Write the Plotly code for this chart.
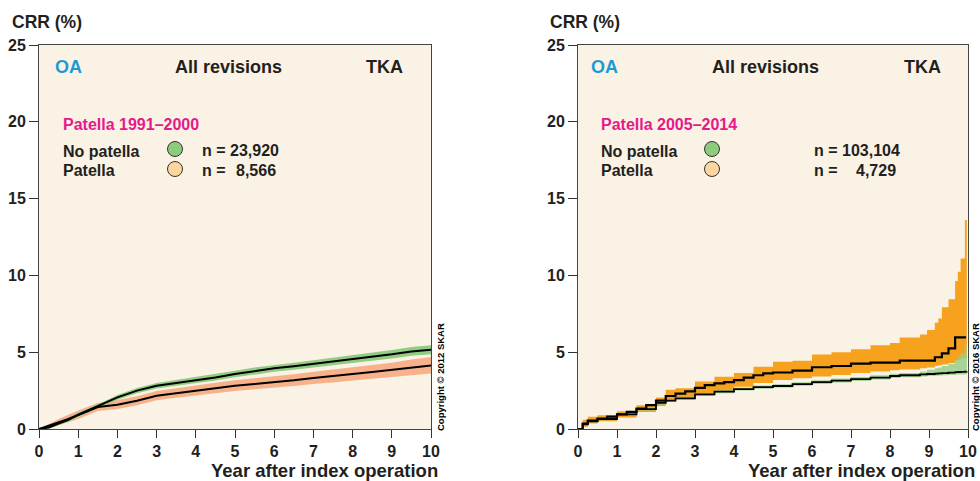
import plotly.graph_objects as go

# ---------------- data: left panel (Patella 1991-2000) ----------------
years_L = [0, 0.25, 0.5, 0.75, 1, 1.5, 2, 2.5, 3, 3.5, 4, 4.5, 5, 5.5, 6, 6.5, 7, 7.5, 8, 8.5, 9, 9.5, 10]
nopat_L = [0, 0.1, 0.35, 0.6, 0.93, 1.47, 2.06, 2.5, 2.82, 3.0, 3.17, 3.36, 3.58, 3.77, 3.95, 4.08, 4.23, 4.38, 4.53, 4.69, 4.86, 5.05, 5.16]
nopat_hi_L = [0, 0.18, 0.45, 0.72, 1.05, 1.6, 2.22, 2.67, 3.0, 3.19, 3.38, 3.58, 3.8, 4.0, 4.18, 4.32, 4.48, 4.64, 4.79, 4.96, 5.14, 5.34, 5.46]
nopat_lo_L = [0, 0.04, 0.25, 0.48, 0.8, 1.33, 1.9, 2.33, 2.64, 2.81, 2.97, 3.15, 3.37, 3.55, 3.72, 3.85, 3.99, 4.13, 4.28, 4.43, 4.59, 4.77, 4.87]
pat_L = [0, 0.2, 0.43, 0.65, 0.91, 1.43, 1.58, 1.84, 2.17, 2.34, 2.52, 2.67, 2.82, 2.93, 3.04, 3.17, 3.32, 3.43, 3.58, 3.71, 3.84, 4.01, 4.14]
pat_hi_L = [0, 0.35, 0.65, 0.92, 1.2, 1.7, 1.88, 2.14, 2.48, 2.66, 2.85, 3.01, 3.17, 3.3, 3.42, 3.57, 3.73, 3.86, 4.02, 4.17, 4.32, 4.52, 4.69]
pat_lo_L = [0, 0.07, 0.24, 0.42, 0.65, 1.17, 1.3, 1.55, 1.87, 2.04, 2.2, 2.34, 2.48, 2.58, 2.68, 2.8, 2.93, 3.02, 3.16, 3.27, 3.38, 3.52, 3.62]

# ---------------- data: right panel (Patella 2005-2014) ----------------
pat_years_R = [0, 0.12, 0.25, 0.5, 0.75, 1.0, 1.25, 1.5, 1.75, 2.0, 2.25, 2.5, 2.75, 3.0, 3.25, 3.5, 3.75, 4.0,
               4.25, 4.5, 4.75, 5.0, 5.5, 6.0, 6.5, 7.0, 7.5, 8.25, 9.15, 9.33, 9.5, 9.67, 9.95]
pat_R = [0, 0.35, 0.55, 0.68, 0.8, 0.95, 1.12, 1.32, 1.55, 1.85, 2.15, 2.3, 2.45, 2.68, 2.85, 2.97, 3.05, 3.18,
         3.35, 3.5, 3.62, 3.68, 3.8, 4.02, 4.1, 4.25, 4.32, 4.45, 4.67, 4.93, 5.25, 5.97, 5.97]

band_years_R = [0, 0.12, 0.25, 0.5, 1.0, 1.5, 2.0, 2.25, 2.5, 3.0, 3.5, 4.0, 4.5, 5.0, 5.5, 6.0, 6.5, 7.0, 7.5,
                8.0, 8.25, 8.77, 8.95, 9.15, 9.24, 9.33, 9.5, 9.67, 9.74, 9.81, 9.92, 9.97]
pat_hi_R = [0, 0.6, 0.8, 0.9, 1.15, 1.55, 2.05, 2.55, 2.65, 3.1, 3.4, 3.65, 4.05, 4.38, 4.45, 4.85, 5.0, 5.2, 5.45,
            5.6, 5.95, 6.16, 6.44, 6.92, 7.2, 7.92, 8.44, 9.63, 10.24, 11.1, 13.6, 13.6]
pat_lo_R = [0, 0.15, 0.35, 0.5, 0.75, 1.1, 1.5, 1.8, 1.95, 2.25, 2.45, 2.75, 3.0, 3.19, 3.3, 3.42, 3.52, 3.65, 3.75,
            3.82, 3.88, 3.95, 4.0, 4.1, 4.15, 4.2, 4.3, 4.45, 4.5, 4.55, 4.6, 4.6]
nopat_R = [0, 0.3, 0.5, 0.65, 0.95, 1.3, 1.7, 1.85, 2.0, 2.25, 2.43, 2.6, 2.72, 2.8, 2.92, 3.05, 3.15, 3.25, 3.35,
           3.45, 3.5, 3.55, 3.58, 3.6, 3.62, 3.64, 3.67, 3.7, 3.71, 3.72, 3.73, 3.75]
nopat_hi_R = [0, 0.38, 0.58, 0.73, 1.04, 1.4, 1.8, 1.95, 2.1, 2.35, 2.53, 2.7, 2.83, 2.92, 3.04, 3.17, 3.28, 3.38, 3.5,
              3.6, 3.65, 3.75, 3.85, 3.95, 4.0, 4.1, 4.25, 4.5, 4.7, 4.9, 5.4, 5.4]
nopat_lo_R = [0, 0.22, 0.42, 0.57, 0.86, 1.2, 1.6, 1.75, 1.9, 2.15, 2.33, 2.5, 2.62, 2.7, 2.81, 2.93, 3.03, 3.13, 3.22,
              3.32, 3.37, 3.42, 3.45, 3.47, 3.49, 3.5, 3.52, 3.54, 3.55, 3.55, 3.56, 3.56]

x_ticks = [0, 1, 2, 3, 4, 5, 6, 7, 8, 9, 10]
y_ticks = [0, 5, 10, 15, 20, 25]

# ---------------- styling ----------------
W, H = 980, 481
FONT = "Liberation Sans, Arial, sans-serif"
TXT = "#231F20"
BG = "#FAF2E4"
GREEN_L, SALMON_L = "#90CD82", "#F7B28C"
GREEN_R, ORANGE_R = "rgba(150,208,138,0.85)", "#F7A21E"


def px(x):
    return x / W


def py(y):
    return 1 - y / H


fig = go.Figure()

# left panel bands + lines
fig.add_trace(go.Scatter(x=years_L, y=pat_lo_L, mode="lines", line=dict(width=0), xaxis="x", yaxis="y",
                         showlegend=False, hoverinfo="skip"))
fig.add_trace(go.Scatter(x=years_L, y=pat_hi_L, mode="lines", line=dict(width=0), fill="tonexty",
                         fillcolor=SALMON_L, xaxis="x", yaxis="y", showlegend=False, hoverinfo="skip"))
fig.add_trace(go.Scatter(x=years_L, y=nopat_lo_L, mode="lines", line=dict(width=0), xaxis="x", yaxis="y",
                         showlegend=False, hoverinfo="skip"))
fig.add_trace(go.Scatter(x=years_L, y=nopat_hi_L, mode="lines", line=dict(width=0), fill="tonexty",
                         fillcolor=GREEN_L, xaxis="x", yaxis="y", showlegend=False, hoverinfo="skip"))
fig.add_trace(go.Scatter(x=years_L, y=pat_L, mode="lines", line=dict(color="black", width=2),
                         xaxis="x", yaxis="y", showlegend=False))
fig.add_trace(go.Scatter(x=years_L, y=nopat_L, mode="lines", line=dict(color="black", width=2),
                         xaxis="x", yaxis="y", showlegend=False))

# right panel bands + lines
fig.add_trace(go.Scatter(x=band_years_R, y=pat_lo_R, mode="lines", line=dict(width=0, shape="hv"),
                         xaxis="x2", yaxis="y2", showlegend=False, hoverinfo="skip"))
fig.add_trace(go.Scatter(x=band_years_R, y=pat_hi_R, mode="lines", line=dict(width=0, shape="hv"), fill="tonexty",
                         fillcolor=ORANGE_R, xaxis="x2", yaxis="y2", showlegend=False, hoverinfo="skip"))
fig.add_trace(go.Scatter(x=band_years_R, y=nopat_lo_R, mode="lines", line=dict(width=0, shape="hv"),
                         xaxis="x2", yaxis="y2", showlegend=False, hoverinfo="skip"))
fig.add_trace(go.Scatter(x=band_years_R, y=nopat_hi_R, mode="lines", line=dict(width=0, shape="hv"), fill="tonexty",
                         fillcolor=GREEN_R, xaxis="x2", yaxis="y2", showlegend=False, hoverinfo="skip"))
fig.add_trace(go.Scatter(x=band_years_R, y=nopat_R, mode="lines", line=dict(color="black", width=1.8, shape="hv"),
                         xaxis="x2", yaxis="y2", showlegend=False))
fig.add_trace(go.Scatter(x=pat_years_R, y=pat_R, mode="lines", line=dict(color="black", width=2.2, shape="hv"),
                         xaxis="x2", yaxis="y2", showlegend=False))

tickfont = dict(family=FONT, size=16, color=TXT, weight="bold")
xax = dict(range=[0, 10], tickvals=x_ticks, ticks="outside", ticklen=8, tickcolor="#333", showgrid=False,
           zeroline=False, showline=True, linecolor="#444", linewidth=1, mirror=True, tickfont=tickfont,
           fixedrange=True, automargin=False)
yax = dict(range=[0, 25], tickvals=y_ticks, ticks="outside", ticklen=9, tickcolor="#333", showgrid=False,
           zeroline=False, showline=True, linecolor="#444", linewidth=1, mirror=True, tickfont=tickfont,
           domain=[py(429), py(45)], fixedrange=True, automargin=False)

fig.update_layout(
    template="none",
    width=W, height=H, margin=dict(l=0, r=0, t=0, b=0, pad=0),
    paper_bgcolor="white", plot_bgcolor=BG,
    xaxis=dict(xax, domain=[px(39), px(431)], anchor="y"),
    yaxis=dict(yax, anchor="x"),
    xaxis2=dict(xax, domain=[px(578), px(968)], anchor="y2"),
    yaxis2=dict(yax, anchor="x2"),
    showlegend=False,
)

ann = []


def T(text, x, y, size=16, color=TXT, xa="left", angle=0):
    ann.append(dict(text=f"<b>{text}</b>", x=px(x), y=py(y), xref="paper", yref="paper", showarrow=False,
                    xanchor=xa, yanchor="middle", textangle=angle,
                    font=dict(family=FONT, size=size, color=color)))


BLUE, MAGENTA = "#1E9AD3", "#E6198C"

panels = [
    dict(head="Patella 1991–2000", n1="23,920", n2="8,566", circ=175, nx=200, nr=278,
         oa=53, allc=228, tka=405, crr=10, copy="Copyright © 2012 SKAR", cx=440),
    dict(head="Patella 2005–2014", n1="103,104", n2="4,729", circ=712, nx=812, nr=898,
         oa=589, allc=765, tka=943, crr=548, copy="Copyright © 2016 SKAR", cx=975),
]
legx = [61, 599]
xtitle_r = [440, 977]
for i, p in enumerate(panels):
    T("CRR (%)", p["crr"], 22, size=17.5)
    T("OA", p["oa"], 67, size=18, color=BLUE)
    T("All revisions", p["allc"], 67, size=18, xa="center")
    T("TKA", p["tka"], 67, size=18, xa="right")
    T(p["head"], legx[i], 124, size=16, color=MAGENTA)
    T("No patella", legx[i], 151, size=16)
    T("Patella", legx[i], 170, size=16)
    T("n = " + p["n1"], p["nx"], 150, size=16)
    T("n =", p["nx"], 170, size=16)
    T(p["n2"], p["nr"], 170, size=16, xa="right")
    T("Year after index operation", xtitle_r[i], 470, size=18.5, xa="right")
    ann.append(dict(text=f"<b>{p['copy']}</b>", x=px(p["cx"]), y=py(377), xref="paper", yref="paper",
                    showarrow=False, xanchor="center", yanchor="middle", textangle=-90,
                    font=dict(family="Liberation Sans Narrow, Liberation Sans, Arial", size=9.5, color="black")))

fig.update_layout(annotations=ann)

shapes = []
for p in panels:
    for yy, col in [(149, "#8DCB7D"), (169, "#FDD59E")]:
        r = 7.5
        shapes.append(dict(type="circle", xref="paper", yref="paper",
                           x0=px(p["circ"] - r), x1=px(p["circ"] + r), y0=py(yy + r), y1=py(yy - r),
                           fillcolor=col, line=dict(color="#333", width=1)))
fig.update_layout(shapes=shapes)

fig.write_html("out.html", config={"displayModeBar": False, "staticPlot": True},
               post_script="document.body.style.margin='0';document.body.style.overflow='hidden';")
